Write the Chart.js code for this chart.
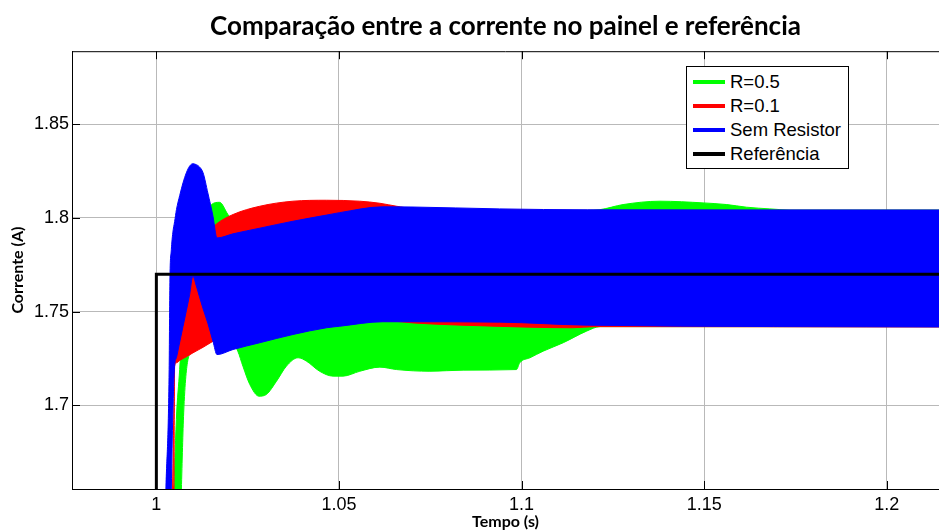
<!DOCTYPE html>
<html>
<head>
<meta charset="utf-8">
<script src="https://cdn.jsdelivr.net/npm/chart.js@4.4.1/dist/chart.umd.min.js"></script>
<style>
  body { margin: 0; background: #fff; }
  #wrap { position: relative; width: 939px; height: 531px; }
  #legenda {
    position: absolute; left: 686px; top: 66px; width: 161px; height: 98px;
    border: 1px solid #000; background: #fff; padding-top: 3px; box-sizing: content-box;
    font-family: "Liberation Sans", Arial, sans-serif; font-size: 18.5px; color: #000;
  }
  #legenda .item { height: 24px; display: flex; align-items: center; white-space: nowrap; }
  #legenda .linha { display: inline-block; width: 32px; height: 4px; margin: 0 5px 0 6px; }
</style>
</head>
<body>
<div id="wrap">
  <canvas id="graficoCorrente" width="939" height="531"></canvas>
  <div id="legenda"></div>
</div>
<script>
// eixos
const xTicks = [1, 1.05, 1.1, 1.15, 1.2];
const xLabels = ['1', '1.05', '1.1', '1.15', '1.2'];
const yTicks = [1.7, 1.75, 1.8, 1.85];
const yLabels = ['1.7', '1.75', '1.8', '1.85'];

const nomes = ['R=0.5', 'R=0.1', 'Sem Resistor', 'Referência'];
const cores = ['#00ff00', '#ff0000', '#0000ff', '#000000'];

// Referência (degrau em t = 1 s)
const tRef = [0.97, 1.0, 1.0, 1.22];
const iRef = [1.60, 1.60, 1.77, 1.77];

// Sem Resistor: envelope superior / inferior da ondulação
const tSem = [1.0026, 1.0035, 1.0037, 1.0041, 1.0045, 1.0050, 1.0055, 1.0064, 1.0073, 1.0082,
              1.0091, 1.0100, 1.0109, 1.0118, 1.0128, 1.0141, 1.0155, 1.0166, 1.0210, 1.0283,
              1.0374, 1.0466, 1.0502, 1.0620, 1.0700, 1.0940, 1.1180, 1.2200];
const semSup = [1.655, 1.7191, 1.7654, 1.7831, 1.792, 1.798, 1.8044, 1.8120, 1.8187, 1.8240,
                1.8276, 1.8289, 1.8284, 1.8272, 1.8240, 1.8133, 1.8009, 1.7893, 1.7915, 1.7945,
                1.7982, 1.8015, 1.8028, 1.8059, 1.8058, 1.8048, 1.8043, 1.8042];
const semInf = [1.60, 1.60, 1.60, 1.655, 1.695, 1.7209, 1.7255, 1.7338, 1.7421, 1.7504,
                1.7590, 1.7690, 1.7640, 1.7580, 1.7515, 1.7438, 1.7342, 1.7271, 1.7298, 1.7334,
                1.7378, 1.7414, 1.7422, 1.7446, 1.7446, 1.7444, 1.7428, 1.7418];

// R=0.1
const tR01 = [1.0043, 1.0048, 1.0050, 1.0055, 1.0064, 1.0082, 1.0100, 1.0128, 1.0155, 1.0162,
              1.0210, 1.0283, 1.0374, 1.0466, 1.0557, 1.0612, 1.0658, 1.0702, 1.0900, 1.1140,
              1.1200, 1.2200];
const r01Sup = [1.640, 1.700, 1.730, 1.745, 1.760, 1.775, 1.785, 1.792, 1.795, 1.7964,
                1.8018, 1.8062, 1.8089, 1.8094, 1.8089, 1.8078, 1.8062, 1.8050, 1.8045, 1.8040,
                1.8040, 1.8040];
const r01Inf = [1.60, 1.64, 1.7209, 1.7227, 1.7240, 1.7259, 1.7280, 1.7310, 1.7342, 1.7350,
                1.7370, 1.7395, 1.7420, 1.7440, 1.7450, 1.7450, 1.7448, 1.7440, 1.7424, 1.7414,
                1.7420, 1.7418];

// R=0.5
const tR05 = [1.00455, 1.00548, 1.00638, 1.00685, 1.00748, 1.00866, 1.0100, 1.0128, 1.0151, 1.0173,
              1.0196, 1.0215, 1.0223, 1.0237, 1.0256, 1.0281, 1.0301, 1.0329, 1.0356, 1.0388,
              1.0411, 1.0447, 1.0484, 1.0511, 1.0557, 1.0612, 1.0658, 1.0749, 1.0840, 1.0986,
              1.0995, 1.1023, 1.1059, 1.1114, 1.1178, 1.1215, 1.1278, 1.1379, 1.1497, 1.1562,
              1.1616, 1.1680, 1.1735, 1.2200];
const r05Sup = [1.640, 1.6925, 1.7191, 1.735, 1.750, 1.765, 1.780, 1.797, 1.8071, 1.8083,
                1.8018, 1.797, 1.796, 1.795, 1.794, 1.794, 1.794, 1.794, 1.795, 1.796,
                1.796, 1.797, 1.798, 1.798, 1.799, 1.800, 1.800, 1.801, 1.802, 1.803,
                1.803, 1.803, 1.8035, 1.804, 1.804, 1.8044, 1.8071, 1.8089, 1.8080, 1.8071,
                1.8057, 1.8048, 1.8042, 1.8042];
const r05Inf = [1.60, 1.60, 1.62, 1.655, 1.696, 1.7245, 1.729, 1.732, 1.734, 1.735,
                1.735, 1.7316, 1.7289, 1.7209, 1.7111, 1.7049, 1.7058, 1.7129, 1.7209, 1.7254,
                1.7236, 1.7182, 1.7156, 1.7156, 1.7182, 1.7204, 1.7191, 1.7182, 1.7188, 1.7191,
                1.7227, 1.7254, 1.7289, 1.7334, 1.7396, 1.7420, 1.7420, 1.7420, 1.7420, 1.7420,
                1.7420, 1.7420, 1.7420, 1.7420];

const pontos = (t, v) => t.map((x, i) => ({ x: x, y: v[i] }));

function faixa(nome, cor, t, sup, inf) {
    const base = { borderColor: cor, backgroundColor: cor, borderWidth: 1, pointRadius: 0,
                   cubicInterpolationMode: 'monotone', clip: 0 };
    return [
        { ...base, label: nome, data: pontos(t, sup), fill: false },
        { ...base, label: nome + ' (inf)', data: pontos(t, inf), fill: '-1' }
    ];
}

// moldura superior e marcas internas (estilo MATLAB)
const moldura = {
    id: 'moldura',
    beforeDatasetsDraw(chart) {
        const { ctx, chartArea: a, scales: { x, y } } = chart;
        ctx.save();
        ctx.strokeStyle = '#000';
        ctx.lineWidth = 1;
        ctx.beginPath();
        ctx.moveTo(a.left, a.top + 0.5);
        ctx.lineTo(a.right, a.top + 0.5);
        xTicks.forEach(v => {
            const px = Math.round(x.getPixelForValue(v)) + 0.5;
            ctx.moveTo(px, a.bottom); ctx.lineTo(px, a.bottom - 8);
            ctx.moveTo(px, a.top); ctx.lineTo(px, a.top + 8);
        });
        yTicks.forEach(v => {
            const py = Math.round(y.getPixelForValue(v)) + 0.5;
            ctx.moveTo(a.left, py); ctx.lineTo(a.left + 8, py);
        });
        ctx.stroke();
        ctx.restore();
    }
};

const fonteNum = { family: '"Liberation Sans", Arial, sans-serif', size: 18 };
const fonteTit = { family: 'Lato, "Open Sans", sans-serif', weight: 'bold', size: 16 };

const ctx = document.getElementById('graficoCorrente').getContext('2d');
window.graficoCorrente = new Chart(ctx, {
    type: 'line',
    data: {
        datasets: [
            { label: nomes[3], data: pontos(tRef, iRef), borderColor: cores[3], borderWidth: 3,
              pointRadius: 0, fill: false, clip: 0 },
            ...faixa(nomes[2], cores[2], tSem, semSup, semInf),
            ...faixa(nomes[1], cores[1], tR01, r01Sup, r01Inf),
            ...faixa(nomes[0], cores[0], tR05, r05Sup, r05Inf)
        ]
    },
    options: {
        responsive: false,
        animation: false,
        layout: { padding: 0 },
        plugins: {
            legend: { display: false },
            tooltip: { enabled: false },
            title: {
                display: true,
                text: 'Comparação entre a corrente no painel e referência',
                fullSize: false,
                color: '#000',
                font: { family: 'Lato, "Open Sans", sans-serif', weight: 'bold', size: 26 },
                padding: { top: 11, bottom: 9 }
            }
        },
        scales: {
            x: {
                type: 'linear', min: 0.9769, max: 1.2143,
                afterBuildTicks: s => { s.ticks = xTicks.map(v => ({ value: v })); },
                afterFit: s => { s.height = 42; },
                grid: { color: '#b9b9b9', drawTicks: false },
                border: { color: '#000', width: 1 },
                ticks: { color: '#000', font: fonteNum, padding: 5, autoSkip: false, maxRotation: 0,
                         callback: (v, i) => xLabels[i] },
                title: { display: true, text: 'Tempo (s)', color: '#000', font: fonteTit,
                         padding: { top: 0, bottom: 0 } }
            },
            y: {
                type: 'linear', min: 1.6554, max: 1.8889,
                afterBuildTicks: s => { s.ticks = yTicks.map(v => ({ value: v })); },
                afterFit: s => { s.width = 72; },
                grid: { color: '#b9b9b9', drawTicks: false },
                border: { color: '#000', width: 1 },
                ticks: { color: '#000', font: fonteNum, padding: 3, autoSkip: false,
                         callback: (v, i) => yLabels[i] },
                title: { display: true, text: 'Corrente (A)', color: '#000', font: fonteTit,
                         padding: { top: 8, bottom: 0 } }
            }
        }
    },
    plugins: [moldura]
});

// legenda
const legenda = document.getElementById('legenda');
nomes.forEach((n, i) => {
    const item = document.createElement('div');
    item.className = 'item';
    const linha = document.createElement('span');
    linha.className = 'linha';
    linha.style.background = cores[i];
    item.appendChild(linha);
    item.appendChild(document.createTextNode(n));
    legenda.appendChild(item);
});
</script>
</body>
</html>
